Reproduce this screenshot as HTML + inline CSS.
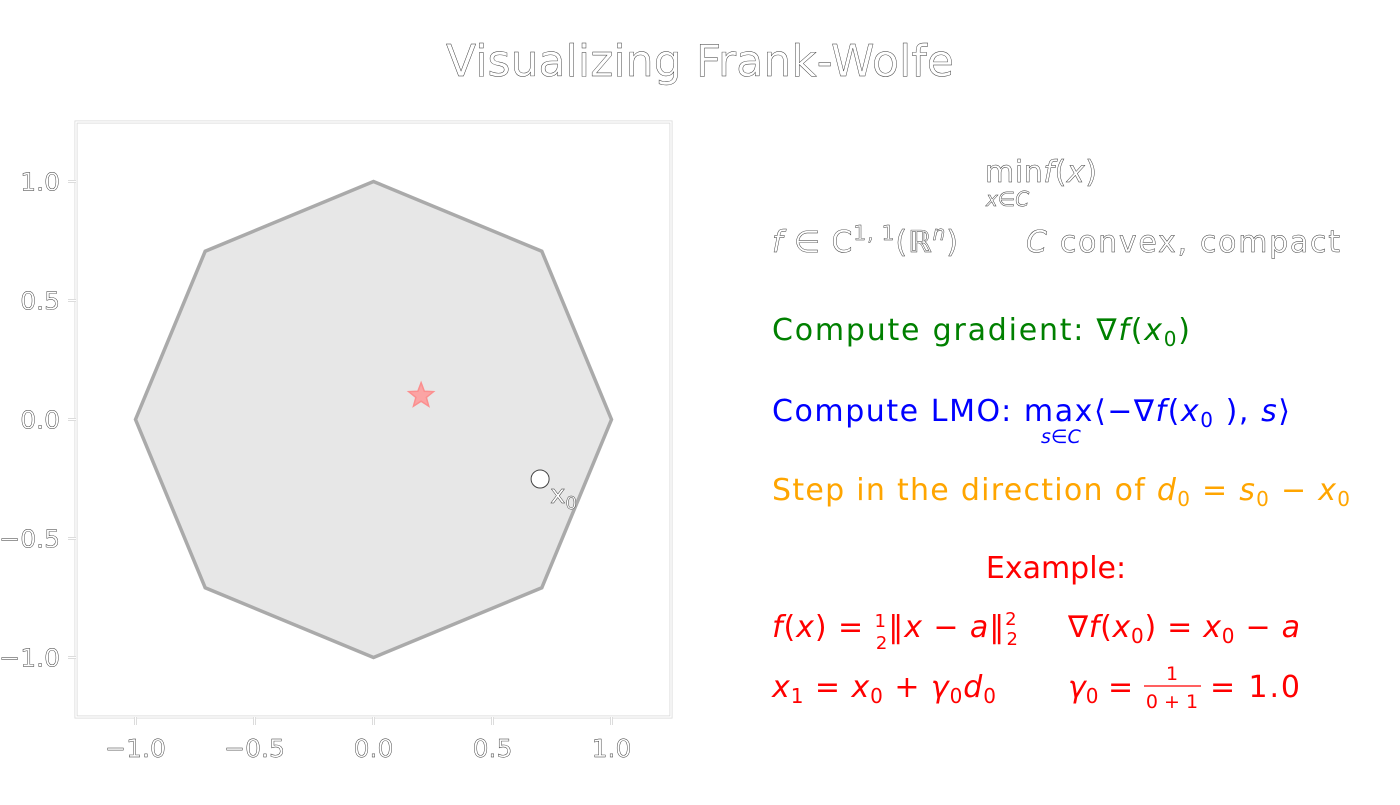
<!DOCTYPE html>
<html><head><meta charset="utf-8"><style>
body{margin:0;background:#fff;}
svg text{font-family:"DejaVu Sans","Liberation Sans",sans-serif;}
.ol{fill:#fff;stroke:#333;stroke-width:0.45;}
</style></head><body>
<svg width="1400" height="800" xmlns="http://www.w3.org/2000/svg">
<text class="ol" x="700" y="76" font-size="44" text-anchor="middle" textLength="508" lengthAdjust="spacing">Visualizing Frank-Wolfe</text>
<g id="plot"></g>
<g>
<text class="ol" x="985" y="182" font-size="30" textLength="112" lengthAdjust="spacing">min<tspan font-style="italic">f</tspan>(<tspan font-style="italic">x</tspan>)</text>
<text class="ol" x="986" y="206" font-size="20" font-style="italic">x∈C</text>
<text class="ol" x="772" y="252" font-size="30" textLength="186" lengthAdjust="spacing"><tspan font-style="italic">f</tspan> ∈ C<tspan font-size="20" dy="-12">1, 1</tspan><tspan dy="12">(</tspan><tspan font-style="italic">ℝ</tspan><tspan font-size="20" dy="-12" font-style="italic">n</tspan><tspan dy="12">)</tspan></text>
<text class="ol" x="1026" y="252" font-size="30" textLength="314" lengthAdjust="spacing"><tspan font-style="italic">C</tspan> convex, compact</text>
<text x="772" y="340" font-size="30" fill="#008000" textLength="418" lengthAdjust="spacing">Compute gradient: ∇<tspan font-style="italic">f</tspan>(<tspan font-style="italic">x</tspan><tspan font-size="20" dy="6">0</tspan><tspan dy="-6">)</tspan></text>
<text x="772" y="421" font-size="30" fill="#0000ff" textLength="518" lengthAdjust="spacing">Compute LMO: max⟨−∇<tspan font-style="italic">f</tspan>(<tspan font-style="italic">x</tspan><tspan font-size="20" dy="6">0</tspan><tspan dy="-6"> ), </tspan><tspan font-style="italic">s</tspan>⟩</text>
<text x="1041" y="443" font-size="19" fill="#0000ff" font-style="italic">s∈C</text>
<text x="772" y="500" font-size="30" fill="#ffa500" textLength="578" lengthAdjust="spacing">Step in the direction of <tspan font-style="italic">d</tspan><tspan font-size="20" dy="6">0</tspan><tspan dy="-6"> = </tspan><tspan font-style="italic">s</tspan><tspan font-size="20" dy="6">0</tspan><tspan dy="-6"> − </tspan><tspan font-style="italic">x</tspan><tspan font-size="20" dy="6">0</tspan></text>
<text x="1056" y="578" font-size="30" fill="#ff0000" text-anchor="middle">Example:</text>
<text x="772" y="637" font-size="30" fill="#ff0000" textLength="246" lengthAdjust="spacing"><tspan font-style="italic">f</tspan>(<tspan font-style="italic">x</tspan>) = <tspan font-size="18" dy="-10">1</tspan><tspan font-size="18" dx="-11" dy="22">2</tspan><tspan dy="-12">‖</tspan><tspan font-style="italic">x</tspan> − <tspan font-style="italic">a</tspan>‖<tspan font-size="18" dy="-12">2</tspan><tspan font-size="18" dx="-11" dy="20">2</tspan></text>
<text x="1068" y="637" font-size="30" fill="#ff0000" textLength="232" lengthAdjust="spacing">∇<tspan font-style="italic">f</tspan>(<tspan font-style="italic">x</tspan><tspan font-size="20" dy="6">0</tspan><tspan dy="-6">) = </tspan><tspan font-style="italic">x</tspan><tspan font-size="20" dy="6">0</tspan><tspan dy="-6"> − </tspan><tspan font-style="italic">a</tspan></text>
<text x="772" y="697" font-size="30" fill="#ff0000" textLength="224" lengthAdjust="spacing"><tspan font-style="italic">x</tspan><tspan font-size="20" dy="6">1</tspan><tspan dy="-6"> = </tspan><tspan font-style="italic">x</tspan><tspan font-size="20" dy="6">0</tspan><tspan dy="-6"> + </tspan><tspan font-style="italic">γ</tspan><tspan font-size="20" dy="6">0</tspan><tspan dy="-6" font-style="italic">d</tspan><tspan font-size="20" dy="6">0</tspan></text>
<text x="1068" y="697" font-size="30" fill="#ff0000"><tspan font-style="italic">γ</tspan><tspan font-size="20" dy="6">0</tspan><tspan dy="-6"> = </tspan></text>
<text x="1172" y="680" font-size="19" fill="#ff0000" text-anchor="middle">1</text>
<line x1="1144" y1="686" x2="1201" y2="686" stroke="#ff0000" stroke-width="1.2"/>
<text x="1172" y="708" font-size="19" fill="#ff0000" text-anchor="middle">0 + 1</text>
<text x="1210" y="697" font-size="30" fill="#ff0000" textLength="90" lengthAdjust="spacing">= 1.0</text>
</g>
</svg>
<script>
const xTicks=[-1.0,-0.5,0.0,0.5,1.0];
const yTicks=[-1.0,-0.5,0.0,0.5,1.0];
const tickLabels=["−1.0","−0.5","0.0","0.5","1.0"];
const polyAngles=[0,45,90,135,180,225,270,315];
const polyRadius=[1];
const optimum=[0.2,0.1];
const startPoint=[0.7,-0.25];
const NS="http://www.w3.org/2000/svg";
const L=76,R=671,T=122,B=717;
const sx=v=>L+(v+1.25)/2.5*(R-L);
const sy=v=>B-(v+1.25)/2.5*(B-T);
const g=document.getElementById('plot');
function mk(t,a){const e=document.createElementNS(NS,t);for(const k in a)e.setAttribute(k,a[k]);g.appendChild(e);return e;}
let fr=mk('rect',{x:L,y:T,width:R-L,height:B-T,fill:'none',stroke:'#d8d8d8','stroke-width':3});


mk('rect',{x:L,y:T,width:R-L,height:B-T,fill:'none',stroke:'#fff','stroke-width':1.4});
xTicks.forEach((v,i)=>{
 mk('line',{x1:sx(v),y1:B,x2:sx(v),y2:B+8,stroke:'#d8d8d8','stroke-width':3});
 mk('line',{x1:sx(v),y1:B,x2:sx(v),y2:B+8,stroke:'#fff','stroke-width':1.2});
 const t=mk('text',{x:sx(v),y:B+40,'font-size':25,'text-anchor':'middle',class:'ol'});t.textContent=tickLabels[i];
 
 
});
yTicks.forEach((v,i)=>{
 mk('line',{x1:L-8,y1:sy(v),x2:L,y2:sy(v),stroke:'#d8d8d8','stroke-width':3});
 mk('line',{x1:L-8,y1:sy(v),x2:L,y2:sy(v),stroke:'#fff','stroke-width':1.2});
 const t=mk('text',{x:L-16,y:sy(v)+9,'font-size':25,'text-anchor':'end',class:'ol'});t.textContent=tickLabels[i];
 
 
});
const pts=polyAngles.map(a=>sx(polyRadius[0]*Math.cos(a*Math.PI/180))+','+sy(polyRadius[0]*Math.sin(a*Math.PI/180))).join(' ');
const poly=mk('polygon',{points:pts,fill:'#e7e7e7',stroke:'#aaa','stroke-width':3.5,'stroke-linejoin':'miter'});


const cx=sx(optimum[0]),cy=sy(optimum[1]);let sp=[];
for(let i=0;i<10;i++){const r=i%2?5.5:13,a=-Math.PI/2+i*Math.PI/5;sp.push((cx+r*Math.cos(a))+','+(cy+r*Math.sin(a)));}
const st=mk('polygon',{points:sp.join(' '),fill:'#ff9999',stroke:'#ff8080','stroke-width':1.5,opacity:0.85});


const c=mk('circle',{cx:sx(startPoint[0]),cy:sy(startPoint[1]),r:9,fill:'#fff',stroke:'#444','stroke-width':1});


const lb=mk('text',{x:sx(startPoint[0])+10,y:sy(startPoint[1])+24,'font-size':26,class:'ol'});
lb.innerHTML='x<tspan font-size="18" dy="6">0</tspan>';


</script>
</body></html>
